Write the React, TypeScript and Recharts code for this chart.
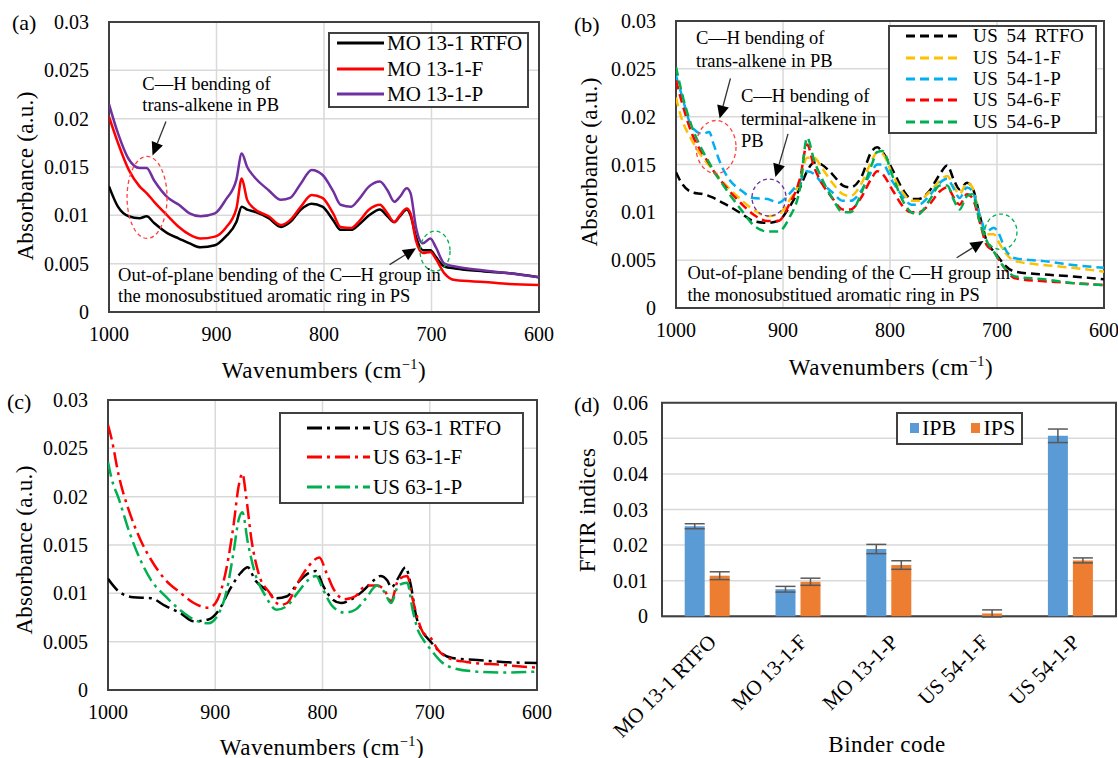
import React from 'react';
import {
  LineChart, Line, XAxis, YAxis, CartesianGrid, ReferenceArea, ReferenceDot, ReferenceLine,
  BarChart, Bar, ErrorBar,
} from 'recharts';

const SERIF = '"Liberation Serif", "Times New Roman", Times, serif';
const GRID = '#d9d9d9';
const FRAME = '#404040';

// ---------- ticks ----------
const absTicks = [0, 0.005, 0.01, 0.015, 0.02, 0.025, 0.03];
const waveTicks = [1000, 900, 800, 700, 600];
const ftirTicks = [0, 0.01, 0.02, 0.03, 0.04, 0.05, 0.06];

// ---------- panel (a) ----------
const waveA = [1000, 991.7, 981.6, 971.6, 965, 958, 945, 935, 925, 915, 901.5, 891.5, 881.5, 876.5, 871.5, 865, 851.5, 840, 831.5, 821.5, 811.5, 801.5, 791.5, 784.6, 774.6, 768, 758, 748, 741, 734.6, 729.5, 723, 719.5, 714.5, 708, 701, 696, 688, 678, 651, 627.6, 600];
const mo131Rtfo = [0.0130, 0.0109, 0.0099, 0.0097, 0.0099, 0.0092, 0.0081, 0.0076, 0.0071, 0.0067, 0.0069, 0.0078, 0.0093, 0.0109, 0.0106, 0.0104, 0.0097, 0.0088, 0.0093, 0.0106, 0.0112, 0.0109, 0.0095, 0.0085, 0.0085, 0.0090, 0.0100, 0.0106, 0.0099, 0.0093, 0.0099, 0.0106, 0.0100, 0.0078, 0.0064, 0.0064, 0.0057, 0.0047, 0.0045, 0.0042, 0.0040, 0.0036];
const mo131F = [0.0202, 0.0175, 0.0147, 0.0130, 0.0123, 0.0114, 0.0099, 0.0088, 0.0080, 0.0076, 0.0078, 0.0087, 0.0107, 0.0138, 0.0116, 0.0107, 0.0099, 0.0090, 0.0095, 0.0109, 0.0121, 0.0118, 0.0102, 0.0088, 0.0087, 0.0093, 0.0106, 0.0111, 0.0102, 0.0093, 0.0100, 0.0107, 0.0102, 0.0074, 0.0061, 0.0062, 0.0055, 0.0040, 0.0033, 0.0031, 0.0029, 0.0028];
const mo131P = [0.0215, 0.0185, 0.0158, 0.0149, 0.0149, 0.0136, 0.0118, 0.0111, 0.0102, 0.0099, 0.0102, 0.0116, 0.0137, 0.0164, 0.0150, 0.0140, 0.0126, 0.0116, 0.0118, 0.0133, 0.0147, 0.0142, 0.0125, 0.0111, 0.0109, 0.0116, 0.0130, 0.0135, 0.0126, 0.0114, 0.0119, 0.0128, 0.0123, 0.0088, 0.0071, 0.0076, 0.0067, 0.0050, 0.0047, 0.0043, 0.0040, 0.0036];

// ---------- panel (b) ----------
const waveB = [1000, 995, 985, 975, 969, 964.8, 958, 951.3, 938, 928, 914.4, 904.4, 894.3, 884, 877.5, 870.8, 864, 854, 844, 837, 827.2, 817, 812, 807, 797, 787, 780, 773.5, 763.4, 753.3, 746.6, 740, 735, 728, 723, 716.4, 709.7, 703, 698, 693, 683, 656, 629, 600];
const us54Rtfo = [0.0142, 0.0131, 0.0121, 0.0119, 0.0117, 0.0115, 0.0111, 0.0107, 0.0098, 0.0091, 0.0089, 0.0091, 0.0105, 0.0126, 0.0143, 0.0152, 0.0150, 0.0140, 0.0128, 0.0126, 0.0136, 0.0164, 0.0168, 0.0163, 0.0143, 0.0122, 0.0114, 0.0114, 0.0122, 0.0140, 0.0149, 0.0133, 0.0124, 0.0131, 0.0126, 0.0098, 0.0070, 0.0059, 0.0052, 0.0045, 0.0038, 0.0035, 0.0033, 0.0030];
const us541F = [0.0220, 0.0199, 0.0175, 0.0157, 0.0149, 0.0143, 0.0134, 0.0126, 0.0112, 0.0103, 0.0096, 0.0098, 0.0112, 0.0133, 0.0157, 0.0157, 0.0147, 0.0131, 0.0119, 0.0117, 0.0129, 0.0154, 0.0163, 0.0161, 0.0138, 0.0119, 0.0112, 0.0112, 0.0121, 0.0133, 0.0138, 0.0126, 0.0119, 0.0131, 0.0126, 0.0098, 0.0077, 0.0077, 0.0068, 0.0059, 0.0049, 0.0045, 0.0042, 0.0038];
const us541P = [0.0243, 0.0224, 0.0189, 0.0182, 0.0184, 0.0171, 0.0150, 0.0136, 0.0122, 0.0115, 0.0114, 0.0110, 0.0119, 0.0133, 0.0143, 0.0140, 0.0131, 0.0121, 0.0112, 0.0112, 0.0122, 0.0143, 0.0150, 0.0150, 0.0131, 0.0115, 0.0108, 0.0108, 0.0117, 0.0131, 0.0135, 0.0124, 0.0115, 0.0126, 0.0122, 0.0098, 0.0080, 0.0084, 0.0077, 0.0063, 0.0052, 0.0049, 0.0045, 0.0042];
const us546F = [0.0238, 0.0217, 0.0182, 0.0161, 0.0151, 0.0143, 0.0133, 0.0124, 0.0108, 0.0098, 0.0091, 0.0091, 0.0108, 0.0136, 0.0171, 0.0147, 0.0131, 0.0115, 0.0103, 0.0103, 0.0115, 0.0136, 0.0143, 0.0140, 0.0122, 0.0105, 0.0100, 0.0100, 0.0108, 0.0122, 0.0126, 0.0115, 0.0108, 0.0119, 0.0115, 0.0091, 0.0066, 0.0059, 0.0050, 0.0042, 0.0031, 0.0028, 0.0026, 0.0024];
const us546P = [0.0252, 0.0227, 0.0189, 0.0164, 0.0152, 0.0143, 0.0132, 0.0121, 0.0101, 0.0087, 0.0080, 0.0080, 0.0094, 0.0126, 0.0178, 0.0154, 0.0136, 0.0115, 0.0100, 0.0100, 0.0119, 0.0150, 0.0163, 0.0164, 0.0136, 0.0110, 0.0100, 0.0098, 0.0112, 0.0128, 0.0128, 0.0112, 0.0103, 0.0117, 0.0119, 0.0091, 0.0070, 0.0059, 0.0050, 0.0042, 0.0033, 0.0030, 0.0026, 0.0024];

// ---------- panel (c) ----------
const waveC1 = [1000, 990, 976.6, 960, 946.5, 933, 920, 906.4, 896.4, 886.4, 876.4, 869.7, 863, 853, 843, 833, 823, 813, 806, 799.5, 791, 782.8, 772.8, 762.8, 752.7, 746, 739.4, 736, 729.3, 722.6, 717.6, 712.6, 707.6, 699.2, 689, 679, 655.8, 632.4, 600];
const us631Rtfo = [0.0115, 0.0102, 0.0096, 0.0095, 0.0087, 0.0080, 0.0071, 0.0073, 0.0083, 0.0104, 0.0121, 0.0127, 0.0114, 0.0104, 0.0095, 0.0097, 0.0111, 0.0121, 0.0123, 0.0108, 0.0094, 0.0090, 0.0094, 0.0102, 0.0113, 0.0118, 0.0113, 0.0106, 0.0116, 0.0127, 0.0108, 0.0076, 0.0062, 0.0050, 0.0038, 0.0033, 0.0031, 0.0029, 0.0028];
const waveC2 = [1000, 996.7, 990, 980, 970, 960, 946.5, 933, 920, 906.4, 899.7, 889.7, 883, 878, 874.7, 871.3, 866.3, 859.7, 849.6, 839.6, 833, 823, 813, 803, 796.2, 789.5, 779.4, 769.4, 759.3, 749.3, 742.7, 736, 729.3, 721, 716, 711, 706, 699.2, 692.6, 682.5, 665.8, 632.4, 600];
const us631F = [0.0274, 0.0260, 0.0222, 0.0184, 0.0156, 0.0135, 0.0114, 0.0101, 0.0090, 0.0085, 0.0090, 0.0125, 0.0170, 0.0212, 0.0224, 0.0201, 0.0156, 0.0121, 0.0101, 0.0088, 0.0090, 0.0111, 0.0128, 0.0137, 0.0121, 0.0104, 0.0094, 0.0097, 0.0108, 0.0108, 0.0104, 0.0092, 0.0114, 0.0118, 0.0094, 0.0073, 0.0059, 0.0054, 0.0042, 0.0033, 0.0029, 0.0026, 0.0023];
const waveC3 = [1000, 996.7, 990, 980, 970, 960, 946.5, 933, 920, 906.4, 896.4, 889.7, 883, 878, 874.7, 869.7, 863, 853, 843, 833, 823, 813, 806, 799.5, 791, 779.4, 769.4, 759.3, 749.3, 742.7, 736, 729.3, 721, 716, 711, 706, 699.2, 689, 679, 655.8, 632.4, 600];
const us631P = [0.0236, 0.0219, 0.0198, 0.0163, 0.0135, 0.0114, 0.0097, 0.0083, 0.0073, 0.0069, 0.0080, 0.0101, 0.0142, 0.0177, 0.0184, 0.0153, 0.0121, 0.0097, 0.0083, 0.0087, 0.0101, 0.0114, 0.0118, 0.0104, 0.0087, 0.0080, 0.0083, 0.0095, 0.0108, 0.0102, 0.0090, 0.0108, 0.0111, 0.0083, 0.0062, 0.0052, 0.0042, 0.0029, 0.0023, 0.0019, 0.0018, 0.0019];

// ---------- panel (d) ----------
const binderCodes = ['MO 13-1 RTFO', 'MO 13-1-F', 'MO 13-1-P', 'US 54-1-F', 'US 54-1-P'];
const ipbValues = [0.0253, 0.0076, 0.0189, 0, 0.0507];
const ipbErrors = [0.0007, 0.0008, 0.0013, 0, 0.0019];
const ipsValues = [0.0114, 0.0097, 0.0144, 0.0008, 0.0157];
const ipsErrors = [0.0011, 0.0010, 0.0012, 0.0010, 0.0007];

type Pt = { w: number; v: number };
const zip = (w: number[], v: number[]): Pt[] => w.map((x, i) => ({ w: x, v: v[i] }));
const fmtTick = (v: number) => (v === 0 ? '0' : String(parseFloat(v.toFixed(3))));

type Series = { name: string; color: string; dash?: string; data: Pt[] };
type Note = { w: number; v: number; lines: string[]; gap: number };
type Oval = { w: number; v: number; rx: number; ry: number; color: string };
type Arrow = { w1: number; v1: number; w2: number; v2: number };
type LegendSpec = {
  x: number; y: number; w: number; h: number; sampleX: number; sampleW: number; textX: number; rows: number[];
  font: number; wordSpacing?: number; letterSpacing?: number;
};

const RED = '#ff0000';
const GREEN = '#00b050';
const dashB = '9 5';
const dashC = '15 5 3 5';

const seriesA: Series[] = [
  { name: 'MO 13-1 RTFO', color: '#000000', data: zip(waveA, mo131Rtfo) },
  { name: 'MO 13-1-F', color: RED, data: zip(waveA, mo131F) },
  { name: 'MO 13-1-P', color: '#7030a0', data: zip(waveA, mo131P) },
];
const seriesB: Series[] = [
  { name: 'US 54 RTFO', color: '#000000', dash: dashB, data: zip(waveB, us54Rtfo) },
  { name: 'US 54-1-F', color: '#ffc000', dash: dashB, data: zip(waveB, us541F) },
  { name: 'US 54-1-P', color: '#00b0f0', dash: dashB, data: zip(waveB, us541P) },
  { name: 'US 54-6-F', color: RED, dash: dashB, data: zip(waveB, us546F) },
  { name: 'US 54-6-P', color: GREEN, dash: dashB, data: zip(waveB, us546P) },
];
const seriesC: Series[] = [
  { name: 'US 63-1 RTFO', color: '#000000', dash: dashC, data: zip(waveC1, us631Rtfo) },
  { name: 'US 63-1-F', color: RED, dash: dashC, data: zip(waveC2, us631F) },
  { name: 'US 63-1-P', color: GREEN, dash: dashC, data: zip(waveC3, us631P) },
];

const outOfPlane = ['Out-of-plane bending of the C\u2014H group in', 'the monosubstitued aromatic ring in PS'];
const transAlkene = ['C\u2014H bending of', 'trans-alkene in PB'];

const notesA: Note[] = [
  { w: 969, v: 0.0236, lines: transAlkene, gap: 20.5 },
  { w: 991.6, v: 0.0039, lines: outOfPlane, gap: 21.5 },
];
const ovalsA: Oval[] = [
  { w: 964.6, v: 0.01185, rx: 20, ry: 41, color: '#ff4040' },
  { w: 696.7, v: 0.0063, rx: 15, ry: 20, color: '#00b050' },
];
const arrowsA: Arrow[] = [
  { w1: 947, v1: 0.0197, w2: 959.5, v2: 0.0162 },
  { w1: 739, v1: 0.0049, w2: 714.4, v2: 0.0066 },
];

const notesB: Note[] = [
  { w: 981.3, v: 0.0283, lines: transAlkene, gap: 23 },
  { w: 939.3, v: 0.0222, lines: ['C\u2014H bending of', 'terminal-alkene in', 'PB'], gap: 22.6 },
  { w: 989.3, v: 0.0037, lines: outOfPlane, gap: 21.8 },
];
const ovalsB: Oval[] = [
  { w: 962.6, v: 0.01683, rx: 20, ry: 26.5, color: '#ff4040' },
  { w: 913.1, v: 0.01155, rx: 17, ry: 18.5, color: '#7030a0' },
  { w: 696.3, v: 0.00797, rx: 16, ry: 17.7, color: '#00b050' },
];
const arrowsB: Arrow[] = [
  { w1: 949.1, v1: 0.024, w2: 959.2, v2: 0.0198 },
  { w1: 895.3, v1: 0.0182, w2: 907.1, v2: 0.0137 },
  { w1: 737.7, v1: 0.00525, w2: 712.6, v2: 0.007 },
];

const arrowShape = (props: any) => {
  const { x1, y1, x2, y2 } = props;
  if ([x1, y1, x2, y2].some((n) => typeof n !== 'number' || isNaN(n))) return <g />;
  const dx = x2 - x1;
  const dy = y2 - y1;
  const len = Math.hypot(dx, dy) || 1;
  const ux = dx / len;
  const uy = dy / len;
  const head = 13;
  const half = 6;
  const bx = x2 - ux * head;
  const by = y2 - uy * head;
  const pts = `${x2},${y2} ${bx - uy * half},${by + ux * half} ${bx + uy * half},${by - ux * half}`;
  return (
    <g>
      <line x1={x1} y1={y1} x2={bx} y2={by} stroke="#333" strokeWidth={1.3} />
      <polygon points={pts} fill="#000" />
    </g>
  );
};

const makeNoteShape = (n: Note) => (props: any) => {
  const { cx, cy } = props;
  return (
    <text x={cx} y={cy} fontFamily={SERIF} fontSize={18.5} fill="#000" textAnchor="start">
      {n.lines.map((l, i) => (
        <tspan key={i} x={cx} y={cy + i * n.gap} dy="0.35em">{l}</tspan>
      ))}
    </text>
  );
};
const makeOvalShape = (o: Oval) => (props: any) => (
  <ellipse cx={props.cx} cy={props.cy} rx={o.rx} ry={o.ry} fill="none" stroke={o.color} strokeWidth={1.3} strokeDasharray="4 3" />
);

function LegendBox({ spec, series, left, top }: { spec: LegendSpec; series: Series[]; left: number; top: number }) {
  return (
    <div
      style={{
        position: 'absolute', left: spec.x - left, top: spec.y - top, width: spec.w, height: spec.h,
        boxSizing: 'border-box', border: `2px solid ${FRAME}`, background: '#fff',
      }}
    >
      {series.map((s, i) => (
        <div key={s.name} style={{ position: 'absolute', left: 0, top: spec.rows[i] - 2, width: '100%', height: 0 }}>
          <svg style={{ position: 'absolute', left: spec.sampleX - 2, top: -3 }} width={spec.sampleW} height={6}>
            <line x1={0} y1={3} x2={spec.sampleW} y2={3} stroke={s.color} strokeWidth={3} strokeDasharray={s.dash} />
          </svg>
          <div
            style={{
              position: 'absolute', left: spec.textX - 2, top: 0, transform: 'translateY(-50%)',
              fontSize: spec.font, lineHeight: `${Math.round(spec.font * 0.85)}px`, whiteSpace: 'nowrap',
              wordSpacing: spec.wordSpacing || 0, letterSpacing: spec.letterSpacing || 0,
            }}
          >
            {s.name}
          </div>
        </div>
      ))}
    </div>
  );
}

function Centered({ x, y, size, rotate, spacing, children }: { x: number; y: number; size: number; rotate?: boolean; spacing?: number; children: React.ReactNode }) {
  return (
    <div
      style={{
        position: 'absolute', left: x, top: y, whiteSpace: 'nowrap', fontSize: size, lineHeight: `${size}px`,
        letterSpacing: spacing || 0,
        transform: `translate(-50%, -50%)${rotate ? ' rotate(-90deg)' : ''}`,
      }}
    >
      {children}
    </div>
  );
}

const WaveTitle = () => (
  <span>
    Wavenumbers (cm<sup style={{ fontSize: '0.62em', lineHeight: 0 }}>&minus;1</sup>)
  </span>
);

type PanelProps = {
  box: { left: number; top: number; width: number; height: number };
  plot: { l: number; r: number; t: number; b: number };
  series: Series[];
  notes: Note[];
  ovals: Oval[];
  arrows: Arrow[];
  legend: LegendSpec;
  tag: { text: string; x: number; y: number };
  yTitle: { x: number; y: number };
  xTitle: { x: number; y: number };
};

function SpectrumPanel(p: PanelProps) {
  const { box, plot } = p;
  const xAxisH = 40;
  const margin = { top: plot.t - box.top, right: box.left + box.width - plot.r, left: 0, bottom: box.top + box.height - plot.b - xAxisH };
  const tickStyle = { fill: '#000', fontSize: 20, fontFamily: SERIF };
  return (
    <div style={{ position: 'absolute', left: box.left, top: box.top, width: box.width, height: box.height }}>
      <LineChart width={box.width} height={box.height} margin={margin}>
        <CartesianGrid stroke={GRID} strokeWidth={1.5} />
        <XAxis
          type="number" dataKey="w" domain={[600, 1000]} reversed allowDataOverflow ticks={waveTicks} interval={0}
          height={xAxisH} tickLine={false} axisLine={false} tick={tickStyle} tickMargin={9}
        />
        <YAxis
          type="number" domain={[0, 0.03]} allowDataOverflow ticks={absTicks} interval={0} width={plot.l - box.left}
          tickLine={false} axisLine={false} tick={tickStyle} tickMargin={14} tickFormatter={fmtTick}
        />
        {p.series.map((s) => (
          <Line
            key={s.name} data={s.data} dataKey="v" name={s.name} type="monotone" stroke={s.color} strokeWidth={2.5}
            strokeDasharray={s.dash} dot={false} activeDot={false} isAnimationActive={false}
          />
        ))}
        <ReferenceArea x1={1000} x2={600} y1={0} y2={0.03} fill="none" stroke={FRAME} strokeWidth={2} ifOverflow="visible" />
        {p.ovals.map((o, i) => (
          <ReferenceDot key={`o${i}`} x={o.w} y={o.v} r={1} shape={makeOvalShape(o)} ifOverflow="visible" />
        ))}
        {p.arrows.map((a, i) => (
          <ReferenceLine key={`a${i}`} segment={[{ x: a.w1, y: a.v1 }, { x: a.w2, y: a.v2 }]} shape={arrowShape} ifOverflow="visible" />
        ))}
        {p.notes.map((n, i) => (
          <ReferenceDot key={`n${i}`} x={n.w} y={n.v} r={1} shape={makeNoteShape(n)} ifOverflow="visible" />
        ))}
      </LineChart>
      <LegendBox spec={p.legend} series={p.series} left={box.left} top={box.top} />
      <div style={{ position: 'absolute', left: p.tag.x - box.left, top: p.tag.y - box.top - 11, fontSize: 22, lineHeight: '22px' }}>{p.tag.text}</div>
      <Centered x={p.yTitle.x - box.left} y={p.yTitle.y - box.top} size={23} spacing={0.3} rotate>Absorbance (a.u.)</Centered>
      <Centered x={p.xTitle.x - box.left} y={p.xTitle.y - box.top} size={23} spacing={0.5}><WaveTitle /></Centered>
    </div>
  );
}

const binderRows = binderCodes.map((code, i) => ({
  code, ipb: ipbValues[i], ipbErr: ipbErrors[i], ips: ipsValues[i], ipsErr: ipsErrors[i],
}));

const RotTick = (props: any) => {
  const { x, y, payload } = props;
  const tx = x + 5;
  const ty = y + 13;
  return (
    <text x={tx} y={ty} transform={`rotate(-45 ${tx} ${ty})`} textAnchor="end" dy="0.35em" fontFamily={SERIF} fontSize={21} fill="#000">
      {payload.value}
    </text>
  );
};

function BarPanel() {
  const box = { left: 560, top: 385, width: 558, height: 373 };
  const plot = { l: 662, r: 1116, t: 402.7, b: 617 };
  const xAxisH = 60;
  const margin = { top: plot.t - box.top, right: box.left + box.width - plot.r, left: 0, bottom: box.top + box.height - plot.b - xAxisH };
  const tickStyle = { fill: '#000', fontSize: 20, fontFamily: SERIF };
  return (
    <div style={{ position: 'absolute', left: box.left, top: box.top, width: box.width, height: box.height }}>
      <BarChart width={box.width} height={box.height} data={binderRows} margin={margin} barCategoryGap="25%" barGap={5}>
        <CartesianGrid stroke={GRID} strokeWidth={1.5} vertical={false} />
        <XAxis dataKey="code" interval={0} height={xAxisH} tickLine={false} axisLine={false} tick={<RotTick />} />
        <YAxis
          type="number" domain={[0, 0.06]} ticks={ftirTicks} interval={0} width={plot.l - box.left}
          tickLine={false} axisLine={false} tick={tickStyle} tickMargin={8} tickFormatter={fmtTick}
        />
        <Bar dataKey="ipb" name="IPB" fill="#5b9bd5" isAnimationActive={false}>
          <ErrorBar dataKey="ipbErr" width={10} stroke="#595959" strokeWidth={1.5} />
        </Bar>
        <Bar dataKey="ips" name="IPS" fill="#ed7d31" isAnimationActive={false}>
          <ErrorBar dataKey="ipsErr" width={10} stroke="#595959" strokeWidth={1.5} />
        </Bar>
        <ReferenceArea x1={binderCodes[0]} x2={binderCodes[binderCodes.length - 1]} y1={0} y2={0.06} fill="none" stroke={FRAME} strokeWidth={2} ifOverflow="visible" />
      </BarChart>
      <div
        style={{
          position: 'absolute', left: 895.6 - box.left, top: 411.8 - box.top, width: 127.4, height: 33.5,
          boxSizing: 'border-box', border: `2px solid ${FRAME}`, background: '#fff', fontSize: 22,
        }}
      >
        <div style={{ position: 'absolute', left: 12.4, top: 9.7, width: 9, height: 10, background: '#5b9bd5' }} />
        <div style={{ position: 'absolute', left: 24.4, top: 14.7, transform: 'translateY(-50%)', lineHeight: '20px' }}>IPB</div>
        <div style={{ position: 'absolute', left: 73.4, top: 9.7, width: 9, height: 10, background: '#ed7d31' }} />
        <div style={{ position: 'absolute', left: 85.9, top: 14.7, transform: 'translateY(-50%)', lineHeight: '20px' }}>IPS</div>
      </div>
      <div style={{ position: 'absolute', left: 574 - box.left, top: 405 - box.top - 11, fontSize: 22, lineHeight: '22px' }}>(d)</div>
      <Centered x={587 - box.left} y={510 - box.top} size={23} spacing={0.3} rotate>FTIR indices</Centered>
      <Centered x={887 - box.left} y={744 - box.top} size={23} spacing={0.5}>Binder code</Centered>
    </div>
  );
}

export default function App() {
  return (
    <div
      style={{
        position: 'absolute', left: 0, top: 0, width: 1118, height: 758, background: '#fff',
        fontFamily: SERIF, color: '#000', overflow: 'hidden',
      }}
    >
      <SpectrumPanel
        box={{ left: 0, top: 0, width: 560, height: 385 }}
        plot={{ l: 109, r: 539, t: 22, b: 312 }}
        series={seriesA}
        notes={notesA}
        ovals={ovalsA}
        arrows={arrowsA}
        legend={{ x: 328, y: 32, w: 201, h: 76, sampleX: 9, sampleW: 47, textX: 59, rows: [11, 37, 62], font: 21 }}
        tag={{ text: '(a)', x: 12, y: 23 }}
        yTitle={{ x: 25, y: 176 }}
        xTitle={{ x: 324, y: 370 }}
      />
      <SpectrumPanel
        box={{ left: 560, top: 0, width: 558, height: 385 }}
        plot={{ l: 676, r: 1104, t: 21, b: 308 }}
        series={seriesB}
        notes={notesB}
        ovals={ovalsB}
        arrows={arrowsB}
        legend={{ x: 888, y: 25, w: 209, h: 109, sampleX: 18, sampleW: 52, textX: 85, rows: [11, 32.6, 54.3, 75.4, 97.2], font: 19, wordSpacing: 3, letterSpacing: 0.5 }}
        tag={{ text: '(b)', x: 574, y: 25 }}
        yTitle={{ x: 589, y: 162 }}
        xTitle={{ x: 891, y: 367 }}
      />
      <SpectrumPanel
        box={{ left: 0, top: 385, width: 560, height: 373 }}
        plot={{ l: 108, r: 537, t: 400, b: 690 }}
        series={seriesC}
        notes={[]}
        ovals={[]}
        arrows={[]}
        legend={{ x: 279, y: 412, w: 245, h: 92, sampleX: 28, sampleW: 63, textX: 94, rows: [16, 45, 75], font: 21 }}
        tag={{ text: '(c)', x: 7, y: 402 }}
        yTitle={{ x: 24, y: 550 }}
        xTitle={{ x: 322, y: 747 }}
      />
      <BarPanel />
    </div>
  );
}
